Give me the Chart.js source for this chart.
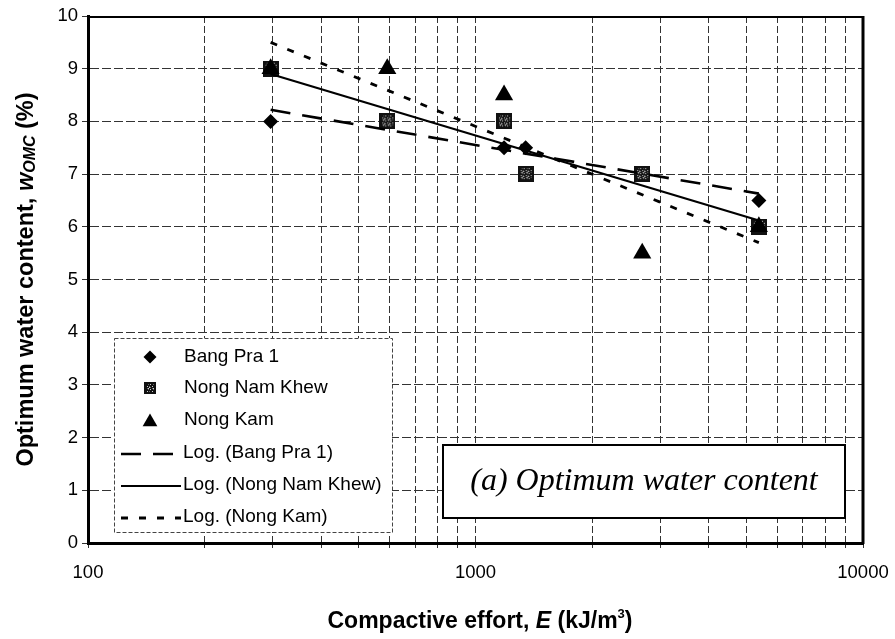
<!DOCTYPE html>
<html>
<head>
<meta charset="utf-8">
<script src="https://cdn.jsdelivr.net/npm/chart.js@4.4.0/dist/chart.umd.min.js"></script>
<style>
  html, body { margin: 0; padding: 0; background: #fff; overflow: hidden; }
  canvas { display: block; }
</style>
</head>
<body>
<canvas id="omc" width="895" height="639"></canvas>
<script>
// Compactive effort E (kJ/m3) and optimum water content wOMC (%) per soil
const bangPraEnergy = [296, 592, 1185, 1347, 2693, 5386];
const bangPraWater = [8, 8, 7.5, 7.5, 7, 6.5];

const nongNamKhewEnergy = [296, 592, 1185, 1347, 2693, 5386];
const nongNamKhewWater = [9, 8, 8, 7, 7, 6];

const nongKamEnergy = [296, 592, 1185, 2693, 5386];
const nongKamWater = [9, 9, 8.5, 5.5, 6];

// Logarithmic trend lines, end values at the first and last effort
const trendEnergy = [296, 5386];
const bangPraTrend = [8.22, 6.63];
const nongNamKhewTrend = [8.9, 6.12];
const nongKamTrend = [9.5, 5.7];

// Axis ticks
const xGridValues = [100, 200, 300, 400, 500, 600, 700, 800, 900,
                     1000, 2000, 3000, 4000, 5000, 6000, 7000, 8000, 9000, 10000];
const xTickLabels = [100, 1000, 10000];
const yTickValues = [0, 1, 2, 3, 4, 5, 6, 7, 8, 9, 10];

const seriesNames = ['Bang Pra 1', 'Nong Nam Khew', 'Nong Kam'];
const trendNames = ['Log. (Bang Pra 1)', 'Log. (Nong Nam Khew)', 'Log. (Nong Kam)'];
const panelTitle = '(a) Optimum water content';

const SANS = '"Liberation Sans", Arial, sans-serif';
const SERIF = '"Liberation Serif", "Times New Roman", serif';

// speckled grey square marker
function speckledSquare(size) {
  const cv = document.createElement('canvas');
  cv.width = size; cv.height = size;
  const g = cv.getContext('2d');
  g.fillStyle = '#111';
  g.fillRect(0, 0, size, size);
  for (let i = 2; i < size - 2; i++) {
    for (let j = 2; j < size - 2; j++) {
      const k = (i * 7 + j * 3 + i * j) % 5;
      if (k === 0) { g.fillStyle = '#cfcfcf'; g.fillRect(i, j, 1, 1); }
      else if (k === 2) { g.fillStyle = '#666'; g.fillRect(i, j, 1, 1); }
    }
  }
  return cv;
}
const squareMark = speckledSquare(16);
const squareLegend = speckledSquare(12);

const pts = (xs, ys) => xs.map((x, i) => ({ x: x, y: ys[i] }));

const trendStyles = [
  { borderWidth: 2.6, borderDash: [20, 12] },
  { borderWidth: 2.2, borderDash: [] },
  { borderWidth: 2.8, borderDash: [7, 11] }
];

const markerStyles = [
  { pointStyle: 'rectRot', pointRadius: 7.5, legendStyle: 'rectRot', legendRadius: 6.5 },
  { pointStyle: squareMark, pointRadius: 8, legendStyle: squareLegend, legendRadius: 6 },
  { pointStyle: 'triangle', pointRadius: 10.5, legendStyle: 'triangle', legendRadius: 8.5 }
];

const trendData = [bangPraTrend, nongNamKhewTrend, nongKamTrend];
const markerData = [
  pts(bangPraEnergy, bangPraWater),
  pts(nongNamKhewEnergy, nongNamKhewWater),
  pts(nongKamEnergy, nongKamWater)
];

const datasets = [];
trendNames.forEach((name, i) => {
  datasets.push({
    label: name,
    data: pts(trendEnergy, trendData[i]),
    showLine: true,
    borderColor: '#000',
    borderWidth: trendStyles[i].borderWidth,
    borderDash: trendStyles[i].borderDash,
    pointRadius: 0,
    fill: false,
    order: 0
  });
});
seriesNames.forEach((name, i) => {
  datasets.push({
    label: name,
    data: markerData[i],
    showLine: false,
    pointStyle: markerStyles[i].pointStyle,
    pointRadius: markerStyles[i].pointRadius,
    pointHoverRadius: markerStyles[i].pointRadius,
    backgroundColor: '#000',
    borderColor: '#000',
    borderWidth: 0,
    order: 3 - i
  });
});

// legend box, panel label, frame and axis titles
const decorations = {
  id: 'decorations',
  afterDraw(chart) {
    const ctx = chart.ctx;
    const a = chart.chartArea;
    ctx.save();

    // top and right frame
    ctx.strokeStyle = '#000';
    ctx.setLineDash([]);
    ctx.lineWidth = 2;
    ctx.beginPath(); ctx.moveTo(a.left, a.top + 1); ctx.lineTo(a.right, a.top + 1); ctx.stroke();
    ctx.lineWidth = 3;
    ctx.beginPath(); ctx.moveTo(a.right, a.top); ctx.lineTo(a.right, a.bottom + 1); ctx.stroke();

    // legend
    const lx = 114, ly = 338, lw = 278, lh = 194;
    ctx.fillStyle = '#fff';
    ctx.fillRect(lx, ly, lw, lh);
    ctx.strokeStyle = '#444';
    ctx.lineWidth = 1;
    ctx.setLineDash([4, 2]);
    ctx.strokeRect(lx + 0.5, ly + 0.5, lw, lh);
    ctx.setLineDash([]);
    const rows = [357, 388, 420, 453, 485, 517];
    ctx.font = '19px ' + SANS;
    ctx.textBaseline = 'middle';
    ctx.textAlign = 'left';
    seriesNames.forEach((name, i) => {
      ctx.fillStyle = '#000';
      ctx.strokeStyle = '#000';
      Chart.helpers.drawPoint(ctx, {
        pointStyle: markerStyles[i].legendStyle,
        radius: markerStyles[i].legendRadius,
        rotation: 0,
        borderWidth: 0
      }, 150, rows[i] + (i === 2 ? 2 : 0));
      ctx.fillStyle = '#000';
      ctx.fillText(name, 184, rows[i]);
    });
    trendNames.forEach((name, i) => {
      const y = rows[3 + i];
      ctx.strokeStyle = '#000';
      ctx.lineWidth = trendStyles[i].borderWidth;
      ctx.setLineDash(trendStyles[i].borderDash);
      ctx.beginPath(); ctx.moveTo(121, y + 1); ctx.lineTo(181, y + 1); ctx.stroke();
      ctx.setLineDash([]);
      ctx.fillStyle = '#000';
      ctx.fillText(name, 183, y);
    });

    // panel label
    const bx = 443, by = 445, bw = 402, bh = 73;
    ctx.fillStyle = '#fff';
    ctx.fillRect(bx, by, bw, bh);
    ctx.strokeStyle = '#000';
    ctx.lineWidth = 2;
    ctx.strokeRect(bx, by, bw, bh);
    ctx.fillStyle = '#000';
    ctx.font = 'italic 32px ' + SERIF;
    ctx.textAlign = 'center';
    ctx.textBaseline = 'middle';
    ctx.fillText(panelTitle, bx + bw / 2, by + bh / 2);

    // axis titles with mixed styles
    const drawRuns = (runs, cx, cy, rot) => {
      let total = 0;
      runs.forEach(r => { ctx.font = r.font; r.w = ctx.measureText(r.t).width; total += r.w; });
      ctx.save();
      ctx.translate(cx, cy);
      ctx.rotate(rot);
      ctx.textAlign = 'left';
      ctx.textBaseline = 'alphabetic';
      let x = -total / 2;
      runs.forEach(r => {
        ctx.font = r.font;
        ctx.fillText(r.t, x, r.dy || 0);
        x += r.w;
      });
      ctx.restore();
    };
    ctx.fillStyle = '#000';
    const BY = 'bold 23.5px ' + SANS, BIY = 'italic bold 23.5px ' + SANS;
    drawRuns([
      { t: 'Optimum water content, ', font: BY },
      { t: 'w', font: BIY },
      { t: 'OMC', font: 'italic bold 16px ' + SANS, dy: 2 },
      { t: ' (%)', font: BY }
    ], 33, (a.top + a.bottom) / 2, -Math.PI / 2);
    const BX = 'bold 23px ' + SANS, BIX = 'italic bold 23px ' + SANS;
    drawRuns([
      { t: 'Compactive effort, ', font: BX },
      { t: 'E', font: BIX },
      { t: ' (kJ/m', font: BX },
      { t: '3', font: 'bold 13px ' + SANS, dy: -10 },
      { t: ')', font: BX }
    ], 480, 628, 0);

    ctx.restore();
  }
};

new Chart(document.getElementById('omc'), {
  type: 'scatter',
  data: { datasets: datasets },
  plugins: [decorations],
  options: {
    responsive: false,
    animation: false,
    devicePixelRatio: 1,
    layout: { padding: { top: 16, right: 32, left: 0, bottom: 0 } },
    plugins: { legend: { display: false }, tooltip: { enabled: false } },
    scales: {
      x: {
        type: 'logarithmic',
        min: 100,
        max: 10000,
        afterFit(s) { s.height = 96; s.paddingLeft = 0; s.paddingRight = 0; },
        afterBuildTicks(s) { s.ticks = xGridValues.map(v => ({ value: v })); },
        ticks: {
          autoSkip: false,
          maxRotation: 0,
          padding: 14,
          color: '#000',
          font: { family: SANS, size: 18.5 },
          callback: v => (xTickLabels.includes(v) ? String(v) : '')
        },
        grid: { color: '#333', lineWidth: 1, tickLength: 5 },
        border: { display: true, color: '#000', width: 3, dash: [7, 3] }
      },
      y: {
        min: 0,
        max: 10,
        afterFit(s) { s.width = 88; s.paddingTop = 0; s.paddingBottom = 0; },
        afterBuildTicks(s) { s.ticks = yTickValues.map(v => ({ value: v })); },
        ticks: {
          padding: 4,
          color: '#000',
          font: { family: SANS, size: 18.5 },
          callback: v => String(v)
        },
        grid: { color: '#333', lineWidth: 1, tickLength: 6 },
        border: { display: true, color: '#000', width: 3, dash: [9, 3] }
      }
    }
  }
});
</script>
</body>
</html>
